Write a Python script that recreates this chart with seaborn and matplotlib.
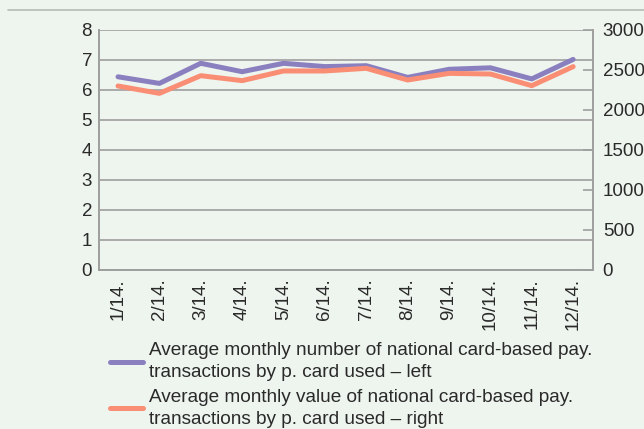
import pandas as pd
import matplotlib.pyplot as plt
import seaborn as sns
from matplotlib.lines import Line2D

months = ["1/14.", "2/14.", "3/14.", "4/14.", "5/14.", "6/14.",
          "7/14.", "8/14.", "9/14.", "10/14.", "11/14.", "12/14."]
avg_number = [6.44, 6.22, 6.89, 6.61, 6.89, 6.78, 6.81, 6.42, 6.69, 6.74, 6.37, 7.02]
avg_value = [2300, 2208, 2429, 2367, 2488, 2488, 2521, 2375, 2458, 2450, 2304, 2542]

label_number = "Average monthly number of national card-based pay.\ntransactions by p. card used – left"
label_value = "Average monthly value of national card-based pay.\ntransactions by p. card used – right"

bg = "#EEF4EE"
purple = "#8A80C0"
orange = "#F98E74"
gridc = "#9E9E9E"
textc = "#2A2A2A"

sns.set_style("white")
plt.rcParams["font.family"] = ["Liberation Sans", "DejaVu Sans"]

df = pd.DataFrame({"month": months, "idx": range(len(months)),
                   "number": avg_number, "value": avg_value})

fig = plt.figure(figsize=(6.44, 4.29), dpi=100, facecolor=bg)
ax = fig.add_axes([99 / 644, 1 - 270 / 429, 494 / 644, 240 / 429])
ax.set_facecolor(bg)
ax2 = ax.twinx()

sns.lineplot(data=df, x="idx", y="number", ax=ax, color=purple, linewidth=3.6,
             solid_capstyle="round", zorder=3)
sns.lineplot(data=df, x="idx", y="value", ax=ax2, color=orange, linewidth=3.6,
             solid_capstyle="round", zorder=3)

ax.set_xlim(-0.46, 11.48)
ax.set_ylim(0, 8)
ax2.set_ylim(0, 3000)
ax.set_yticks(range(0, 9))
ax2.set_yticks(range(0, 3001, 500))
ax.set_xticks(df["idx"])
ax.set_xticklabels(months, rotation=90)
ax.set_xlabel("")
ax.set_ylabel("")
ax2.set_ylabel("")

ax.grid(axis="y", color=gridc, linewidth=1.2)
ax.set_axisbelow(True)
for a in (ax, ax2):
    for s in a.spines.values():
        s.set_color(gridc)
        s.set_linewidth(1.2)
    a.spines["top"].set_visible(False)
ax.tick_params(axis="y", length=0, labelsize=13.5, pad=5, colors=textc)
ax.tick_params(axis="x", length=0, labelsize=13.5, pad=6, colors=textc)
ax2.tick_params(axis="y", direction="in", length=7, width=1.2, color=gridc,
                labelsize=13.5, pad=7, labelcolor=textc)

handles = [Line2D([0], [0], color=purple, linewidth=3.6, solid_capstyle="round"),
           Line2D([0], [0], color=orange, linewidth=3.6, solid_capstyle="round")]
leg = fig.legend(handles, [label_number, label_value], loc="upper left",
                 bbox_to_anchor=(110 / 644, 1 - 342 / 429), frameon=False,
                 fontsize=13.7, handlelength=1.75, handletextpad=0.3,
                 labelspacing=0.38, borderaxespad=0, borderpad=0,
                 labelcolor=textc)
for t in leg.get_texts():
    t.set_linespacing(1.42)

fig.add_artist(Line2D([8 / 644, 1], [1 - 10 / 429, 1 - 10 / 429],
                      color="#B4BCB4", linewidth=1.2))

fig.savefig("out.png", dpi=100, facecolor=bg)
